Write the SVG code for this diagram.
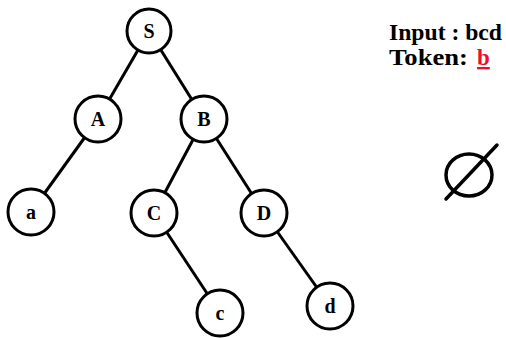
<svg xmlns="http://www.w3.org/2000/svg" width="506" height="338" viewBox="0 0 506 338">
<style>
.edge{stroke:#000;stroke-width:3;fill:none}
.node circle{fill:#fff;stroke:#000;stroke-width:3}
.node text{font-family:"Liberation Serif",serif;font-weight:bold;font-size:20px;text-anchor:middle;fill:#000}
.info{font-family:"Liberation Serif",serif;font-weight:bold;font-size:23px;fill:#000}
.info.token{fill:#e8102a;text-decoration:underline}
</style>
<rect width="506" height="338" fill="#fff"/>
<g id="connectors">
<line class="edge" x1="149" y1="31" x2="98" y2="119"/>
<line class="edge" x1="149" y1="31" x2="204" y2="119"/>
<line class="edge" x1="98" y1="119" x2="31" y2="212"/>
<line class="edge" x1="204" y1="119" x2="154" y2="213"/>
<line class="edge" x1="204" y1="119" x2="264" y2="213"/>
<line class="edge" x1="154" y1="213" x2="220" y2="313"/>
<line class="edge" x1="264" y1="213" x2="330" y2="306"/>
</g>
<g id="node-S" class="node"><circle cx="149" cy="31" r="22"/><text x="149" y="38">S</text></g>
<g id="node-A" class="node"><circle cx="98" cy="119" r="23"/><text x="98" y="126">A</text></g>
<g id="node-B" class="node"><circle cx="204" cy="119" r="23"/><text x="204" y="126">B</text></g>
<g id="node-a" class="node"><circle cx="31" cy="212" r="23"/><text x="31" y="219">a</text></g>
<g id="node-C" class="node"><circle cx="154" cy="213" r="23"/><text x="154" y="220">C</text></g>
<g id="node-D" class="node"><circle cx="264" cy="213" r="23"/><text x="264" y="220">D</text></g>
<g id="node-c" class="node"><circle cx="220" cy="313" r="23"/><text x="220" y="320">c</text></g>
<g id="node-d" class="node"><circle cx="330" cy="306" r="23"/><text x="330" y="313">d</text></g>
<g id="status">
<text class="info" x="389" y="40" textLength="113" lengthAdjust="spacingAndGlyphs">Input : bcd</text>
<text class="info" x="389" y="65" textLength="79" lengthAdjust="spacingAndGlyphs">Token:</text>
<text class="info token" x="477" y="65">b</text>
</g>
<g id="empty-set" stroke="#000" stroke-width="3.5" fill="none">
<ellipse cx="469" cy="175" rx="23" ry="21"/>
<line x1="497" y1="145" x2="446" y2="199" stroke-linecap="round"/>
</g>
</svg>
